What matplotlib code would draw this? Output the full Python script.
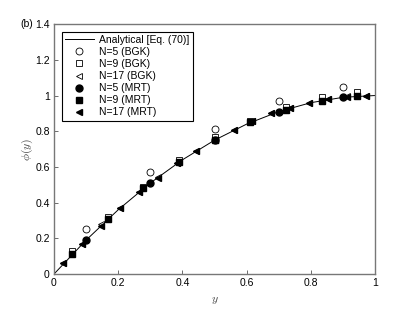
import matplotlib
matplotlib.use("Agg")
import matplotlib.pyplot as plt

plt.rcParams["font.family"] = ["Liberation Sans", "DejaVu Sans"]
plt.rcParams["mathtext.fontset"] = "cm"

# analytical curve
y_an = [0.0, 0.1, 0.2, 0.3, 0.4, 0.5, 0.6, 0.7, 0.8, 0.9, 1.0]
phi_an = [0.0, 0.19, 0.36, 0.51, 0.64, 0.75, 0.84, 0.91, 0.96, 0.99, 1.0]

y5 = [0.1, 0.3, 0.5, 0.7, 0.9]
bgk5 = [0.25, 0.57, 0.81, 0.97, 1.05]
mrt5 = [0.19, 0.51, 0.75, 0.91, 0.99]

y9 = [0.056, 0.167, 0.278, 0.389, 0.5, 0.611, 0.722, 0.833, 0.944]
bgk9 = [0.13, 0.32, 0.49, 0.64, 0.77, 0.86, 0.935, 0.99, 1.02]
mrt9 = [0.11, 0.31, 0.48, 0.63, 0.75, 0.85, 0.92, 0.97, 1.0]

y17 = [0.029, 0.088, 0.147, 0.206, 0.265, 0.324, 0.382, 0.441, 0.5,
       0.559, 0.618, 0.676, 0.735, 0.794, 0.853, 0.912, 0.971]
bgk17 = [0.06, 0.17, 0.28, 0.37, 0.46, 0.545, 0.62, 0.69, 0.75,
         0.805, 0.855, 0.9, 0.93, 0.96, 0.98, 0.995, 1.0]
mrt17 = [0.06, 0.17, 0.27, 0.37, 0.46, 0.54, 0.62, 0.69, 0.75,
         0.805, 0.855, 0.9, 0.93, 0.96, 0.98, 0.99, 1.0]

fig = plt.figure(figsize=(4.15, 3.09), dpi=100)
ax = fig.add_axes([0.130, 0.113, 0.774, 0.809])

ms = 5
ax.plot(y_an, phi_an, "k-", lw=0.7, label="Analytical [Eq. (70)]")
ax.plot(y5, bgk5, "o", mfc="white", mec="black", mew=0.6, ms=ms, ls="none", label="N=5 (BGK)")
ax.plot(y9, bgk9, "s", mfc="white", mec="black", mew=0.6, ms=ms - 0.5, ls="none", label="N=9 (BGK)")
ax.plot(y17, bgk17, "<", mfc="white", mec="black", mew=0.6, ms=ms, ls="none", label="N=17 (BGK)")
ax.plot(y5, mrt5, "o", color="black", ms=ms, ls="none", label="N=5 (MRT)")
ax.plot(y9, mrt9, "s", color="black", ms=ms - 0.5, ls="none", label="N=9 (MRT)")
ax.plot(y17, mrt17, "<", color="black", ms=ms, ls="none", label="N=17 (MRT)")

ax.set_xlim(0, 1)
ax.set_ylim(0, 1.4)
ax.set_xticks([0, 0.2, 0.4, 0.6, 0.8, 1])
ax.set_xticklabels(["0", "0.2", "0.4", "0.6", "0.8", "1"])
ax.set_yticks([0, 0.2, 0.4, 0.6, 0.8, 1, 1.2, 1.4])
ax.set_yticklabels(["0", "0.2", "0.4", "0.6", "0.8", "1", "1.2", "1.4"])
ax.tick_params(direction="in", length=3, width=0.6, labelsize=7.5, color="#555555", pad=3)
for s in ax.spines.values():
    s.set_color("#777777")
    s.set_linewidth(1.0)

ax.set_xlabel("$y$", fontsize=8.5, color="#444444", labelpad=4)
ax.set_ylabel(r"$\phi(y)$", fontsize=8.5, color="#444444", labelpad=0)

leg = ax.legend(loc="upper left", fontsize=7.5, fancybox=False, framealpha=1,
                edgecolor="black", handlelength=2.8, handletextpad=0.5,
                borderpad=0.3, labelspacing=0.2, bbox_to_anchor=(0.008, 0.99))
leg.get_frame().set_linewidth(0.8)

fig.text(0.048, 0.922, "(b)", fontsize=7.5, va="center")

fig.savefig("out.png", dpi=100)
